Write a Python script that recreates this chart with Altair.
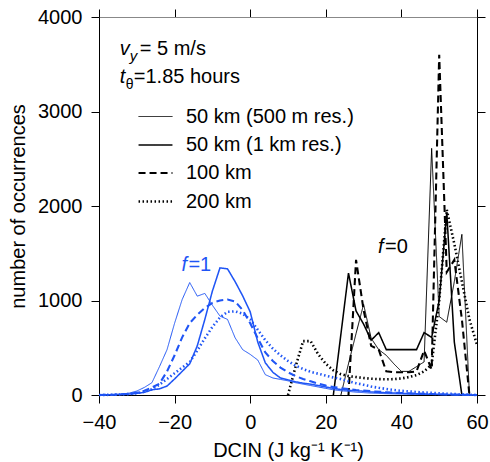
import altair as alt
import pandas as pd

BLUE = "#1f55f5"
FONT = "Liberation Sans"

LABELS = ["50 km (500 m res.)", "50 km (1 km res.)", "100 km", "200 km"]

# ---- f=1 (blue) series ----
b_thin_x = [-40, -38, -36, -34, -32, -30, -28, -26, -24, -22, -20, -18, -16, -14, -12, -10, -8, -6, -4, -2, 0, 2, 4, 6, 8, 10, 12, 14, 16, 18, 20, 22, 24, 26, 28, 30, 32, 34, 36, 38, 40, 44, 48, 52, 56, 60]
b_thin_y = [0, 2, 5, 10, 20, 42, 80, 130, 300, 480, 760, 1010, 1190, 1046, 1075, 950, 835, 800, 606, 480, 430, 370, 215, 180, 165, 150, 130, 115, 100, 85, 70, 55, 45, 38, 30, 25, 20, 17, 14, 12, 10, 8, 6, 4, 2, 0]

b_thick_x = [-40, -36, -32, -30, -28, -26, -24, -22, -20, -18, -16, -14, -12, -10, -8, -6, -4, -2, 0, 2, 4, 6, 8, 10, 12, 14, 16, 18, 20, 22, 24, 26, 28, 30, 32, 36, 40, 44, 48, 52, 56, 60]
b_thick_y = [0, 3, 10, 18, 28, 55, 65, 95, 170, 250, 330, 520, 800, 1100, 1345, 1335, 1200, 1050, 880, 560, 340, 240, 180, 160, 140, 125, 115, 100, 85, 70, 58, 50, 45, 40, 32, 24, 18, 12, 8, 5, 2, 0]

b_dash_x = [-40, -36, -32, -30, -28, -26, -24, -22, -20, -18, -16, -14, -12, -10, -8, -6, -4, -2, 0, 2, 4, 6, 8, 10, 12, 14, 16, 18, 20, 22, 24, 26, 28, 30, 32, 36, 40, 44, 48, 52, 56, 60]
b_dash_y = [0, 4, 12, 25, 45, 80, 120, 250, 420, 610, 760, 850, 920, 975, 1000, 1010, 990, 900, 760, 600, 450, 360, 290, 240, 200, 170, 145, 120, 100, 85, 72, 62, 52, 46, 40, 30, 22, 15, 10, 6, 3, 0]

b_dot_x = [-40, -36, -32, -30, -28, -26, -24, -22, -20, -18, -16, -14, -12, -10, -8, -6, -4, -2, 0, 2, 4, 6, 8, 10, 12, 14, 16, 18, 20, 22, 24, 26, 28, 30, 32, 34, 36, 38, 40, 44, 48, 52, 56, 60]
b_dot_y = [0, 3, 10, 20, 35, 60, 110, 170, 230, 290, 350, 470, 600, 720, 820, 880, 885, 860, 800, 690, 580, 490, 420, 360, 310, 275, 245, 225, 205, 185, 168, 145, 125, 108, 90, 76, 64, 53, 44, 32, 22, 14, 7, 0]

# ---- f=0 (black) series ----
k_thin_x = [24, 26, 28, 30, 32, 34, 36, 38, 40, 42, 44, 46, 48, 50, 52, 54, 56, 58]
k_thin_y = [0, 330, 650, 960, 600, 480, 420, 330, 250, 250, 300, 350, 2610, 830, 770, 1200, 1700, 0]

k_thick_x = [22, 26, 28, 30, 32, 34, 36, 38, 40, 42, 44, 46, 48, 50, 52, 54, 56]
k_thick_y = [0, 1290, 890, 750, 580, 660, 480, 480, 480, 480, 480, 660, 610, 1000, 1930, 560, 0]

k_dash_x = [26, 28, 30, 32, 34, 36, 38, 40, 42, 44, 46, 48, 50, 52, 54, 56, 58]
k_dash_y = [0, 1430, 900, 520, 480, 250, 240, 240, 240, 250, 470, 270, 3600, 1300, 1430, 800, 0]

k_dot_x = [10, 12, 14, 16, 18, 20, 22, 24, 26, 28, 30, 32, 34, 36, 38, 40, 42, 44, 46, 48, 50, 52, 54, 56, 58, 60]
k_dot_y = [0, 300, 570, 570, 430, 330, 260, 220, 200, 190, 180, 172, 168, 166, 168, 175, 190, 210, 250, 320, 1000, 1960, 1600, 1200, 800, 530]

X_TICKS = [-40, -20, 0, 20, 40, 60]
Y_TICKS = [0, 1000, 2000, 3000, 4000]


def frame(pairs, group):
    rows = []
    for lab, (xs_, ys_) in zip(LABELS, pairs):
        for i, (x, y) in enumerate(zip(xs_, ys_)):
            rows.append({"x": x, "y": y, "series": lab, "group": group, "i": i})
    return pd.DataFrame(rows)


blue_df = frame([(b_thin_x, b_thin_y), (b_thick_x, b_thick_y), (b_dash_x, b_dash_y), (b_dot_x, b_dot_y)], "f1")
black_df = frame([(k_thin_x, k_thin_y), (k_thick_x, k_thick_y), (k_dash_x, k_dash_y), (k_dot_x, k_dot_y)], "f0")


def xs():
    return alt.Scale(domain=[-40, 60], nice=False, zero=False)


def ys():
    return alt.Scale(domain=[0, 4000], nice=False)


x_axis = alt.Axis(values=X_TICKS, title="DCIN (J kg⁻¹ K⁻¹)", tickSize=8, labelFontSize=20,
                  titleFontSize=20, labelPadding=9, titlePadding=8, titleFontWeight="normal",
                  labelFont=FONT, titleFont=FONT, grid=False, domainColor="black", tickColor="black",
                  labelColor="black", titleColor="black", labelFlush=False, format="d")
y_axis = alt.Axis(values=Y_TICKS, title="number of occurrences", tickSize=8, labelFontSize=20,
                  titleFontSize=20, labelPadding=9, titlePadding=9, titleFontWeight="normal",
                  labelFont=FONT, titleFont=FONT, grid=False, domainColor="black", tickColor="black",
                  labelColor="black", titleColor="black", labelFlush=False, format="d")


def dash_scale():
    return alt.Scale(domain=LABELS, range=[[1, 0], [1, 0], [7, 4], [1.5, 2.5]])


def width_scale():
    return alt.Scale(domain=LABELS, range=[1, 2.6, 2, 2])


legend = alt.Legend(title=None, orient="none", legendX=38, legendY=82, symbolType="stroke",
                    symbolSize=1150, labelFontSize=20, labelFont=FONT, labelColor="black",
                    labelOffset=12, rowPadding=0, labelLimit=400, direction="vertical")

black = alt.Chart(black_df).mark_line(strokeCap="butt").encode(
    x=alt.X("x:Q", scale=xs(), axis=x_axis),
    y=alt.Y("y:Q", scale=ys(), axis=y_axis),
    detail="series:N",
    order="i:Q",
    color=alt.value("black"),
    strokeDash=alt.StrokeDash("series:O", scale=dash_scale(), legend=legend),
    strokeWidth=alt.StrokeWidth("series:O", scale=width_scale(), legend=legend),
)

blue = alt.Chart(blue_df).mark_line(strokeCap="butt").encode(
    x=alt.X("x:Q", scale=xs(), axis=None),
    y=alt.Y("y:Q", scale=ys(), axis=None),
    detail="series:N",
    order="i:Q",
    color=alt.value(BLUE),
    strokeDash=alt.StrokeDash("series:O", scale=dash_scale(), legend=None),
    strokeWidth=alt.StrokeWidth("series:O", scale=width_scale(), legend=None),
)

# mirrored top / right axes (ticks only)
frame_df = pd.DataFrame({"x": [-40, 60], "y": [0, 4000]})
mirror = alt.Chart(frame_df).mark_point(opacity=0).encode(
    x=alt.X("x:Q", scale=xs(), axis=alt.Axis(orient="top", values=X_TICKS, labels=False, title=None,
                                             tickSize=8, grid=False, domainColor="#888888", tickColor="black")),
    y=alt.Y("y:Q", scale=ys(), axis=alt.Axis(orient="right", values=Y_TICKS, labels=False, title=None,
                                             tickSize=8, grid=False, domainColor="black", tickColor="black")),
)

# annotations
ann_x = [-34.5, -34.5, -18.2, 33.8]
ann_y = [3600, 3300, 1310, 1505]


def txt(x, y, s, size=20, italic=False, color="black", dx=0, dy=0):
    return alt.Chart(pd.DataFrame({"x": [x], "y": [y], "t": [s]})).mark_text(
        align="left", baseline="alphabetic", font=FONT, fontSize=size,
        fontStyle="italic" if italic else "normal", color=color, dx=dx, dy=dy
    ).encode(x=alt.X("x:Q", scale=xs(), axis=None), y=alt.Y("y:Q", scale=ys(), axis=None), text="t:N")


texts = [
    txt(ann_x[0], ann_y[0], "v", italic=True),
    txt(ann_x[0], ann_y[0], "y", size=15, italic=True, dx=10, dy=6),
    txt(ann_x[0], ann_y[0], "= 5 m/s", dx=20),
    txt(ann_x[1], ann_y[1], "t", italic=True),
    txt(ann_x[1], ann_y[1], "θ", size=14, dx=6, dy=6),
    txt(ann_x[1], ann_y[1], "=1.85 hours", dx=14),
    txt(ann_x[2], ann_y[2], "f", italic=True, color=BLUE),
    txt(ann_x[2], ann_y[2], "=1", color=BLUE, dx=7),
    txt(ann_x[3], ann_y[3], "f", italic=True),
    txt(ann_x[3], ann_y[3], "=0", dx=7),
]

chart = alt.layer(black, blue, mirror, *texts).resolve_scale(
    x="independent", y="independent", strokeDash="independent", strokeWidth="independent"
).properties(
    width=378, height=378,
    autosize=alt.AutoSizeParams(type="none"),
    padding={"left": 99, "top": 17, "right": 13, "bottom": 66},
).configure_view(stroke=None).configure(background="white")

chart.save("out.html", embed_options={"renderer": "svg", "actions": False})
